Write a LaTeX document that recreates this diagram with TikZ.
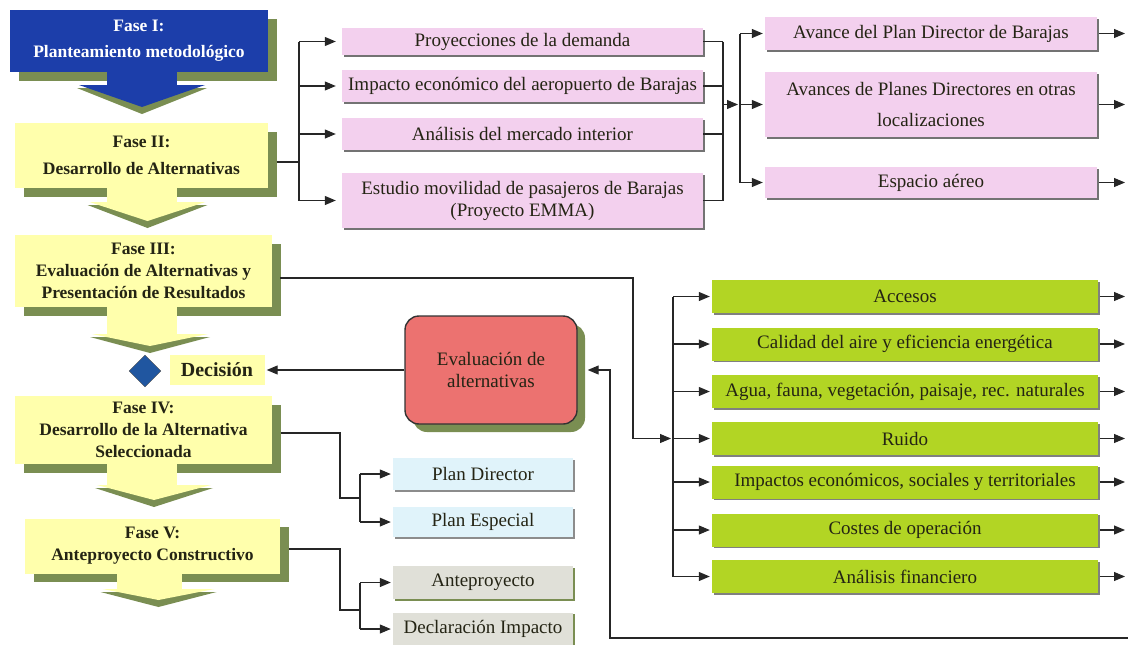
\documentclass[tikz,border=0pt]{standalone}
\usepackage{fontspec}
\setmainfont{Liberation Serif}
\usetikzlibrary{arrows.meta}
\usetikzlibrary{positioning}
\usetikzlibrary{shapes.geometric}
\usetikzlibrary{shadows}

\definecolor{fasblue}{RGB}{28,62,170}
\definecolor{fasyellow}{RGB}{255,255,172}
\definecolor{shgreen}{RGB}{122,142,82}
\definecolor{pinkfill}{RGB}{243,208,238}
\definecolor{limefill}{RGB}{178,213,36}
\definecolor{skyfill}{RGB}{224,243,250}
\definecolor{greyfill}{RGB}{224,224,216}
\definecolor{evalred}{RGB}{236,114,112}
\definecolor{diamblue}{RGB}{32,86,160}
\definecolor{textdark}{RGB}{36,36,20}

\begin{document}
\begin{tikzpicture}
    [x=1pt, y=-1pt,
     fase/.style={rectangle, fill=fasyellow, text=textdark, inner sep=0pt, align=center,
        font=\fontsize{17.5}{22}\selectfont\bfseries,
        drop shadow={shadow xshift=8.5pt, shadow yshift=-8.5pt, fill=shgreen, opacity=1}},
     boxbase/.style={rectangle, inner sep=0pt, align=center, text=textdark,
        font=\fontsize{19}{22}\selectfont},
     pinkbx/.style={boxbase, fill=pinkfill,
        drop shadow={shadow xshift=1.5pt, shadow yshift=-1.5pt, fill=black!55, opacity=1}},
     limebx/.style={boxbase, fill=limefill, minimum width=386pt, minimum height=33pt,
        drop shadow={shadow xshift=1.5pt, shadow yshift=-1.5pt, fill=black!50, opacity=1}},
     skybx/.style={boxbase, fill=skyfill, minimum width=180pt,
        drop shadow={shadow xshift=1.5pt, shadow yshift=-1.5pt, fill=black!45, opacity=1}},
     greybx/.style={boxbase, fill=greyfill, minimum width=180pt, minimum height=33pt,
        drop shadow={shadow xshift=1.5pt, shadow yshift=-1.5pt, fill=shgreen, opacity=1}},
     evalbx/.style={boxbase, rounded corners=14pt, fill=evalred, draw=black!80, line width=1.4pt,
        drop shadow={shadow xshift=8pt, shadow yshift=-8pt, fill=shgreen, opacity=1}},
     conn/.style={draw=black!85, line width=1.1pt},
     arr/.style={conn, -{Triangle[length=11pt, width=9pt]}, shorten >=2pt}]

    \useasboundingbox (0,0) rectangle (1128,645);

    % phases
    \node [fase, fill=fasblue, text=white, minimum width=258pt, minimum height=62pt] (f1) at (139,41)
        {Fase I:\\[4pt]Planteamiento metodológico};
    \node [fase, minimum width=253pt, minimum height=65pt] (f2) at (141.5,155.5)
        {Fase II:\\[5pt]Desarrollo de Alternativas};
    \node [fase, minimum width=257pt, minimum height=72pt] (f3) at (143.5,271)
        {Fase III:\\Evaluación de Alternativas y\\Presentación de Resultados};
    \node [fase, minimum width=257pt, minimum height=68pt] (f4) at (143.5,430)
        {Fase IV:\\Desarrollo de la Alternativa\\Seleccionada};
    \node [fase, minimum width=255pt, minimum height=55pt] (f5) at (152.5,546)
        {Fase V:\\Anteproyecto Constructivo};

    % stems and heads
    \fill [fasblue] (107,72) rectangle (177,87);
    \foreach \top/\bot in {188/204, 307/336, 464/487}
        \fill [fasyellow] (107,\top) rectangle (177,\bot);
    \fill [fasyellow] (117,573) rectangle (182,591);
    \foreach \cx/\ty/\tp/\hw/\col in {142/88/114/65/fasblue, 147.5/205/228/60/fasyellow,
        150/337/353/60/fasyellow, 154/488/507/59/fasyellow, 158.5/592/607/58/fasyellow} {
        \fill [shgreen] (\cx-\hw,\ty) -- (\cx+\hw,\ty) -- (\cx,\tp) -- cycle;
        \fill [\col] (\cx-\hw+2,\ty-3) -- (\cx+\hw-2,\ty-3) -- (\cx,\tp-7) -- cycle;
    }

    \node [diamond, fill=diamblue, draw=black!70, minimum size=32pt, inner sep=0pt] (dia) at (145,371) {};
    \node [rectangle, fill=fasyellow, text=textdark, font=\fontsize{20}{24}\selectfont\bfseries,
        minimum width=95pt, minimum height=30pt] (dec) at (217,370) {Decisión};

    % studies
    \node [pinkbx, minimum width=361pt, minimum height=27pt] (p1) at (522.5,41.5) {Proyecciones de la demanda};
    \node [pinkbx, minimum width=361pt, minimum height=32pt] (p2) at (522.5,86) {Impacto económico del aeropuerto de Barajas};
    \node [pinkbx, minimum width=361pt, minimum height=32pt] (p3) at (522.5,134) {Análisis del mercado interior};
    \node [pinkbx, minimum width=361pt, minimum height=55pt] (p4) at (522.5,200.5)
        {Estudio movilidad de pasajeros de Barajas\\(Proyecto EMMA)};

    \node [pinkbx, minimum width=332pt, minimum height=33pt] (q1) at (931,33.5) {Avance del Plan Director de Barajas};
    \node [pinkbx, minimum width=332pt, minimum height=65pt] (q2) at (931,104.5)
        {Avances de Planes Directores en otras\\[9pt]localizaciones};
    \node [pinkbx, minimum width=332pt, minimum height=31pt] (q3) at (931,182.5) {Espacio aéreo};

    % criteria
    \node [limebx] (g1) at (905,296.5) {Accesos};
    \node [limebx] (g2) at (905,344) {Calidad del aire y eficiencia energética};
    \node [limebx] (g3) at (905,391.5) {Agua, fauna, vegetación, paisaje, rec. naturales};
    \node [limebx] (g4) at (905,438.5) {Ruido};
    \node [limebx] (g5) at (905,482) {Impactos económicos, sociales y territoriales};
    \node [limebx] (g6) at (905,530) {Costes de operación};
    \node [limebx] (g7) at (905,576.5) {Análisis financiero};

    \node [evalbx, minimum width=172pt, minimum height=108pt] (ev) at (491,370) {Evaluación de\\alternativas};

    \node [skybx, minimum height=32pt] (b1) at (483,474) {Plan Director};
    \node [skybx, minimum height=30pt] (b2) at (483,522) {Plan Especial};
    \node [greybx] (c1) at (483,582.5) {Anteproyecto};
    \node [greybx] (c2) at (483,629) {Declaración Impacto};

    % connectors
    \coordinate (s1) at (299,162);
    \draw [conn] ([shift={(8.5,6.5)}]f2.east) -- (s1);
    \draw [conn] (p1.west -| s1) -- (p4.west -| s1);
    \foreach \n in {p1,p2,p3,p4}
        \draw [arr, shorten >=6pt] (\n.west -| s1) -- (\n.west);

    \coordinate (m1) at (723,104.5);
    \coordinate (s2) at (740,104.5);
    \foreach \n in {p1,p2,p3,p4}
        \draw [conn] (\n.east) -- (\n.east -| m1);
    \draw [conn] (p1.east -| m1) -- (p4.east -| m1);
    \draw [arr] (m1) -- (s2);
    \draw [conn] (q1.west -| s2) -- (q3.west -| s2);
    \foreach \n in {q1,q2,q3}
        \draw [arr] (\n.west -| s2) -- (\n.west);

    \coordinate (out) at (1127,0);
    \foreach \n in {q1,q2,q3,g1,g2,g3,g4,g5,g6,g7}
        \draw [arr] ([xshift=1.5pt]\n.east) -- (\n.east -| out);

    \coordinate (k3) at (633,438.5);
    \coordinate (s3) at (673,438.5);
    \draw [arr] ([shift={(8,7)}]f3.east) -| (k3) -- (s3);
    \draw [conn] (g1.west -| s3) -- (g7.west -| s3);
    \foreach \n in {g1,g2,g3,g4,g5,g6,g7}
        \draw [arr] (\n.west -| s3) -- (\n.west);

    \draw [arr] (ev.west) -- (dec.east);

    \coordinate (fb) at (1128,638);
    \coordinate (k1) at (610,638);
    \draw [arr] (fb) -- (k1) |- ([xshift=8pt]ev.east);

    \coordinate (k4) at (340,498);
    \coordinate (s4) at (360,498);
    \draw [conn] ([shift={(8.5,3)}]f4.east) -| (k4) -- (s4);
    \draw [conn] (b1.west -| s4) -- (b2.west -| s4);
    \foreach \n in {b1,b2}
        \draw [arr] (\n.west -| s4) -- (\n.west);

    \coordinate (k5) at (340,610);
    \coordinate (s5) at (360,610);
    \draw [conn] ([shift={(8.5,3)}]f5.east) -| (k5) -- (s5);
    \draw [conn] (c1.west -| s5) -- (c2.west -| s5);
    \foreach \n in {c1,c2}
        \draw [arr] (\n.west -| s5) -- (\n.west);
\end{tikzpicture}
\end{document}
